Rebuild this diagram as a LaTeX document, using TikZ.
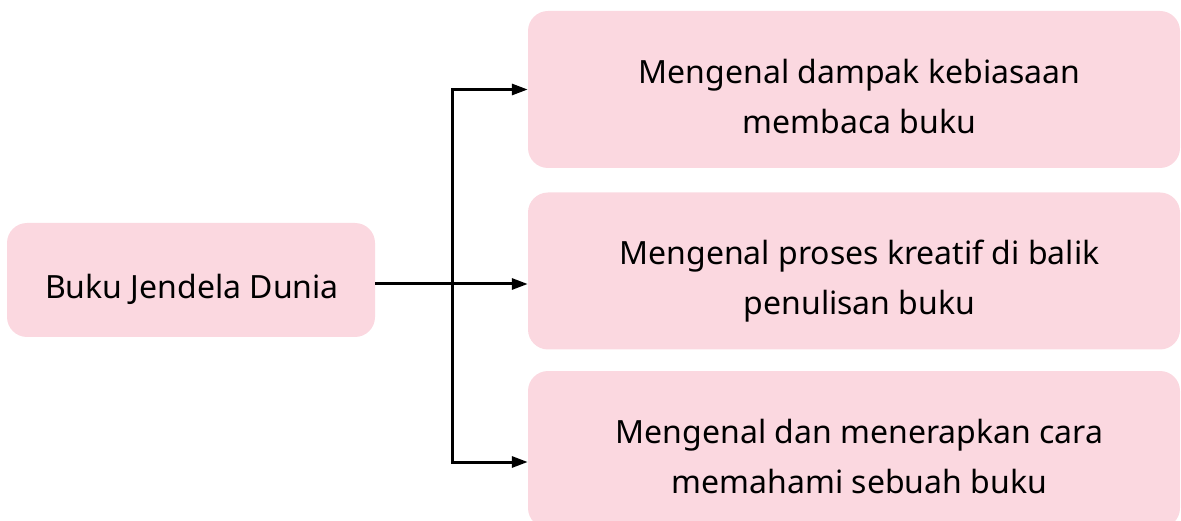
\documentclass[tikz,border=0pt]{standalone}
\usepackage{fontspec}
\setmainfont{Noto Sans}
\usetikzlibrary{arrows.meta}
\definecolor{boxpink}{RGB}{251,216,224}

\begin{document}
\begin{tikzpicture}[x=1pt,y=-1pt,
        topicbox/.style={fill=boxpink,rounded corners=20pt,inner sep=0pt},
        subbox/.style={topicbox,minimum width=652pt,minimum height=157pt},
        boxtext/.style={align=center,inner sep=0pt,font=\fontsize{32}{50}\selectfont},
        subtext/.style={boxtext,xshift=5.5pt}]
        \useasboundingbox (0,0) rectangle (1181,521);
        \node[topicbox,minimum width=368pt,minimum height=114pt,
            label={[boxtext,xshift=1pt,yshift=-9pt]center:Buku Jendela Dunia}] at (191,280) (root) {};
        \node[subbox,label={[subtext,yshift=-7pt]center:Mengenal dampak kebiasaan\\membaca buku}]
            at (854,89.5) (dampak) {};
        \node[subbox,label={[subtext,yshift=-10pt]center:Mengenal proses kreatif di balik\\penulisan buku}]
            at (854,271) (proses) {};
        \node[subbox,label={[subtext,yshift=-7pt]center:Mengenal dan menerapkan cara\\memahami sebuah buku}]
            at (854,449.5) (cara) {};
        \coordinate (fork) at (452,284);
        \path[->, line width=3pt, >={Triangle[length=16pt,width=11pt]}]
        (root.east |- fork) edge (proses.west |- fork)
        (fork) edge [to path={|- (\tikztotarget)}] (dampak.west)
        (fork) edge [to path={|- ([yshift=-12.5pt]\tikztotarget)}] (cara.west)
        ;
    \end{tikzpicture}
\end{document}
